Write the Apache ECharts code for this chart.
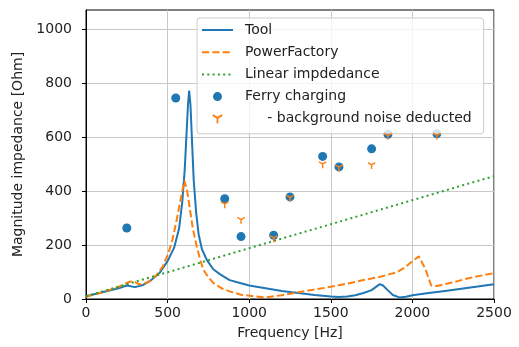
<!DOCTYPE html>
<html>
<head>
<meta charset="utf-8">
<script src="https://cdn.jsdelivr.net/npm/echarts@6/dist/echarts.min.js"></script>
<style>html,body{margin:0;padding:0;background:#fff;}#c{width:519px;height:347px;}</style>
</head>
<body>
<div id="c"></div>
<script>
// Tool model (blue solid)
var toolFreq = [0,100,200,250,300,350,400,450,500,540,570,590,605,615,625,632,640,650,660,675,690,710,740,780,820,880,950,1000,1100,1200,1300,1400,1500,1550,1600,1650,1700,1750,1800,1820,1850,1880,1920,1960,2000,2100,2200,2300,2400,2500];
var toolZ    = [10,25,40,50,44,52,70,96,140,190,260,360,480,600,720,772,720,580,440,320,240,185,145,110,92,70,58,50,40,30,22,15,9,7,9,14,22,33,55,50,32,15,6,8,14,22,30,38,46,55];
// PowerFactory (orange dashed)
var pfFreq = [0,100,200,270,300,330,380,433,470,505,530,556,580,603,620,637,655,678,700,719,750,781,830,882,950,1025,1100,1200,1300,1400,1500,1600,1700,1800,1900,1950,2000,2040,2080,2115,2150,2250,2350,2500];
var pfZ    = [8,25,45,65,62,54,62,90,120,170,220,294,370,438,400,331,260,195,145,108,80,59,40,28,16,10,6,14,25,35,45,57,70,82,98,115,140,158,110,50,48,62,78,96];
// Linear impedance (green dotted)
var linFreq = [0,2500];
var linZ    = [10,455];
// Ferry charging measurements
var ferryFreq = [250,550,850,950,1150,1250,1450,1550,1750,1850,2150];
var ferryZ    = [263,744,371,231,236,378,528,489,556,610,612];
// Background noise deducted
var noiseFreq = [850,950,1150,1250,1450,1550,1750,1850,2150];
var noiseZ    = [352,294,226,376,500,488,497,605,606];
// Axis ticks
var xTicks = [0,500,1000,1500,2000,2500];
var yTicks = [0,200,400,600,800,1000];
var legendNames = ['Tool','PowerFactory','Linear impdedance','Ferry charging','     - background noise deducted'];

function pairs(xs, ys){ return xs.map(function(x,i){ return [x, ys[i]]; }); }

var triPath = 'path://M6.425 5.264 L2.095 2.764 L1.245 4.236 L5.575 6.736 Z M6.425 6.736 L10.755 4.236 L9.905 2.764 L5.575 5.264 Z M5.15 6 L5.15 11 L6.85 11 L6.85 6 Z';
var FONT = 'DejaVu Sans';
var FS = 14;
var chart = echarts.init(document.getElementById('c'), null, {renderer:'canvas'});
chart.setOption({
  animation:false,
  backgroundColor:'#ffffff',
  grid:{left:86, top:10, right:25, bottom:48, show:true, borderColor:'#000', borderWidth:1, backgroundColor:'transparent'},
  xAxis:{
    type:'value', min:0, max:2500, interval:500,
    name:'Frequency [Hz]', nameLocation:'middle', nameGap:27,
    nameTextStyle:{fontFamily:FONT, fontSize:FS, color:'#222'},
    axisLine:{show:true, lineStyle:{color:'#000', width:1}},
    axisTick:{show:true, inside:false, length:4, lineStyle:{color:'#000'}, customValues:xTicks},
    axisLabel:{fontFamily:FONT, fontSize:FS, color:'#222', margin:7, customValues:xTicks, formatter:function(v){return String(v);}},
    splitLine:{show:true, lineStyle:{color:'#c8c8c8', width:1}}
  },
  yAxis:{
    type:'value', min:0, max:1070, interval:200,
    name:'Magnitude impedance [Ohm]', nameLocation:'middle', nameGap:56, nameRotate:90,
    nameTextStyle:{fontFamily:FONT, fontSize:FS, color:'#222'},
    axisLine:{show:true, lineStyle:{color:'#000', width:1}},
    axisTick:{show:true, inside:false, length:4, lineStyle:{color:'#000'}, customValues:yTicks},
    axisLabel:{fontFamily:FONT, fontSize:FS, color:'#222', margin:14, customValues:yTicks, formatter:function(v){return String(v);}},
    splitLine:{show:true, lineStyle:{color:'#c8c8c8', width:1}}
  },
  legend:{
    orient:'vertical', left:197, top:18,
    itemWidth:31, itemHeight:9, itemGap:8.2,
    padding:[5,12,8,4],
    backgroundColor:'rgba(255,255,255,0.8)', borderColor:'#cccccc', borderWidth:1, borderRadius:3,
    textStyle:{fontFamily:FONT, fontSize:FS, color:'#222', padding:[0,0,0,7]},
    data:[
      {name:legendNames[0], itemStyle:{opacity:0}},
      {name:legendNames[1], itemStyle:{opacity:0}},
      {name:legendNames[2], itemStyle:{opacity:0}},
      {name:legendNames[3]},
      {name:legendNames[4]}
    ]
  },
  series:[
    {name:legendNames[0], type:'line', data:pairs(toolFreq, toolZ), symbol:'none', lineStyle:{color:'#1f77b4', width:2}, itemStyle:{color:'#1f77b4'}, z:2},
    {name:legendNames[1], type:'line', data:pairs(pfFreq, pfZ), symbol:'none', lineStyle:{color:'#ff7f0e', width:2, type:[7.2,3.1]}, itemStyle:{color:'#ff7f0e'}, z:2},
    {name:legendNames[2], type:'line', data:pairs(linFreq, linZ), symbol:'none', lineStyle:{color:'#2ca02c', width:2, type:[2,3.3]}, itemStyle:{color:'#2ca02c'}, z:2},
    {name:legendNames[3], type:'scatter', data:pairs(ferryFreq, ferryZ), symbol:'circle', symbolSize:9, itemStyle:{color:'#1f77b4', opacity:1}, z:3},
    {name:legendNames[4], type:'scatter', data:pairs(noiseFreq, noiseZ), symbol:triPath, symbolSize:[8,7], symbolOffset:[0,0.75], itemStyle:{color:'#ff7f0e', opacity:1}, z:4}
  ]
});
</script>
</body>
</html>
